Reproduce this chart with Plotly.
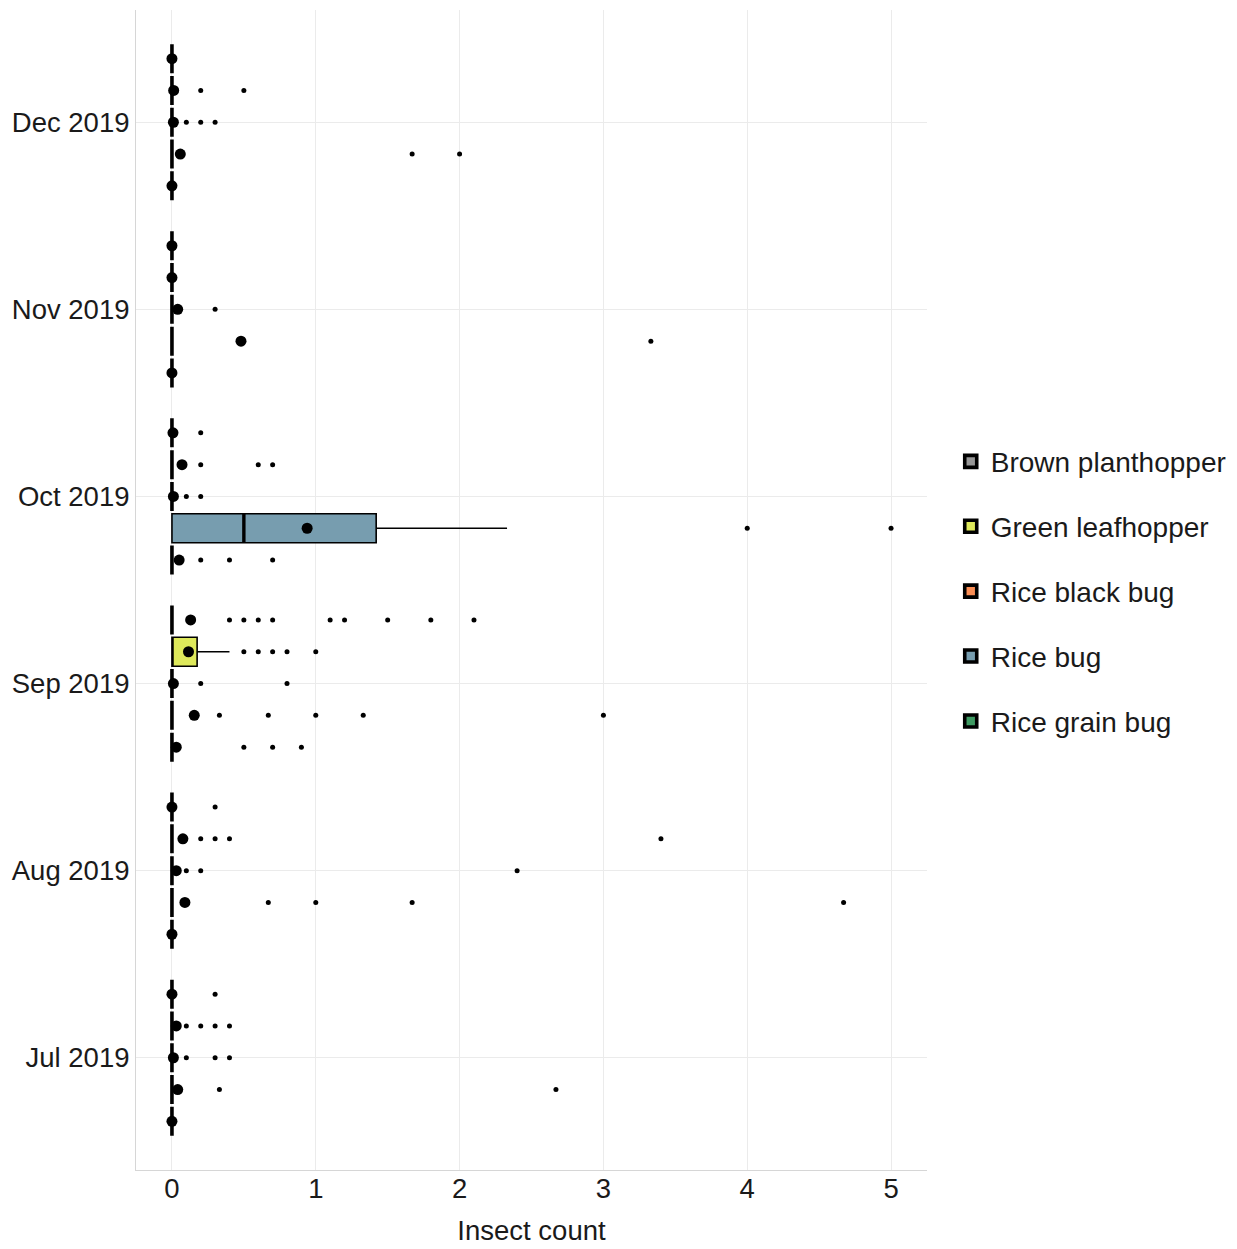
import plotly.graph_objects as go

months = ["Jul 2019", "Aug 2019", "Sep 2019", "Oct 2019", "Nov 2019", "Dec 2019"]
species = ["Brown planthopper", "Green leafhopper", "Rice black bug", "Rice bug", "Rice grain bug"]
colors = ["#979797", "#DEE95B", "#FA8E55", "#779DAF", "#3E9A62"]

# box statistics per species, one value per month (Jul..Dec)
q1 = {s: [0, 0, 0, 0, 0, 0] for s in species}
median = {s: [0, 0, 0, 0, 0, 0] for s in species}
q3 = {s: [0, 0, 0, 0, 0, 0] for s in species}
upper = {s: [0, 0, 0, 0, 0, 0] for s in species}
q3["Green leafhopper"] = [0, 0, 0.175, 0, 0, 0]
upper["Green leafhopper"] = [0, 0, 0.4, 0, 0, 0]
median["Rice bug"] = [0, 0, 0, 0.5, 0, 0]
q3["Rice bug"] = [0, 0, 0, 1.42, 0, 0]
upper["Rice bug"] = [0, 0, 0, 2.33, 0, 0]

means = {
    "Brown planthopper": [0.0, 0.0, 0.13, 0.007, 0.0, 0.0],
    "Green leafhopper": [0.03, 0.076, 0.115, 0.07, 0.0, 0.012],
    "Rice black bug": [0.01, 0.03, 0.01, 0.01, 0.04, 0.01],
    "Rice bug": [0.04, 0.09, 0.155, 0.94, 0.48, 0.058],
    "Rice grain bug": [0.0, 0.0, 0.03, 0.05, 0.0, 0.0],
}

outliers = {
    "Brown planthopper": [[0.3], [0.3], [0.4, 0.5, 0.6, 0.7, 1.1, 1.2, 1.5, 1.8, 2.1], [0.2], [], []],
    "Green leafhopper": [[0.1, 0.2, 0.3, 0.4], [0.2, 0.3, 0.4, 3.4], [0.5, 0.6, 0.7, 0.8, 1.0], [0.2, 0.6, 0.7], [], [0.2, 0.5]],
    "Rice black bug": [[0.1, 0.3, 0.4], [0.1, 0.2, 2.4], [0.2, 0.8], [0.1, 0.2], [0.3], [0.1, 0.2, 0.3]],
    "Rice bug": [[0.33, 2.67], [0.67, 1.0, 1.67, 4.67], [0.33, 0.67, 1.0, 1.33, 3.0], [4.0, 5.0], [3.33], [1.67, 2.0]],
    "Rice grain bug": [[], [], [0.5, 0.7, 0.9], [0.2, 0.4, 0.7], [], []],
}

STEP = 0.17
BOXW = 0.155

fig = go.Figure()
for i, s in enumerate(species):
    off = (2 - i) * STEP
    for m in range(len(months)):
        pos = m + 1 + off
        degenerate = q3[s][m] == q1[s][m]
        fig.add_trace(go.Box(
            y=[pos], q1=[q1[s][m]], median=[median[s][m]], q3=[q3[s][m]],
            lowerfence=[q1[s][m]], upperfence=[upper[s][m]],
            orientation="h", width=BOXW, whiskerwidth=0,
            fillcolor=colors[i], line=dict(color="black", width=3.6 if degenerate else 1.6),
            boxpoints=False, name=s, legendgroup=s, showlegend=(m == 0),
            hoverinfo="skip",
        ))
        if not degenerate and median[s][m] != q1[s][m]:
            # thicker median line, as in the reference
            fig.add_trace(go.Scatter(
                x=[median[s][m], median[s][m]], y=[pos - BOXW / 2, pos + BOXW / 2],
                mode="lines", line=dict(color="black", width=3.4),
                legendgroup=s, showlegend=False, hoverinfo="skip"))
    ys_o, xs_o = [], []
    for m in range(len(months)):
        for v in outliers[s][m]:
            xs_o.append(v)
            ys_o.append(m + 1 + off)
    fig.add_trace(go.Scatter(x=xs_o, y=ys_o, mode="markers", marker=dict(color="black", size=5),
                             legendgroup=s, showlegend=False, hoverinfo="skip"))
    fig.add_trace(go.Scatter(x=means[s], y=[m + 1 + off for m in range(len(months))], mode="markers",
                             marker=dict(color="black", size=11), legendgroup=s, showlegend=False,
                             hoverinfo="skip"))

fig.update_layout(
    width=1229, height=1241,
    margin=dict(l=128, r=310, t=2, b=79),
    paper_bgcolor="white", plot_bgcolor="white",
    font=dict(family="Liberation Sans, Arial, sans-serif", size=27.5, color="#1a1a1a"),
    showlegend=True,
    legend=dict(x=1.03, y=0.499, xanchor="left", yanchor="middle", traceorder="grouped",
                tracegroupgap=25.5, font=dict(size=28, color="#1a1a1a"), bgcolor="rgba(0,0,0,0)"),
    xaxis=dict(range=[-0.25, 5.25], tickvals=[0, 1, 2, 3, 4, 5], showgrid=True, gridcolor="#ebebeb",
               gridwidth=1, zeroline=False, showline=True, linecolor="#d6d6d6", linewidth=1,
               ticks="", ticklabelstandoff=-6, automargin=False,
               title=dict(text="Insect count", standoff=17, font=dict(size=27.5)),
               tickfont=dict(size=27.5)),
    yaxis=dict(range=[0.4, 6.6], tickvals=[1, 2, 3, 4, 5, 6], ticktext=months, showgrid=True,
               gridcolor="#ebebeb", gridwidth=1, zeroline=False, showline=True, linecolor="#d6d6d6",
               linewidth=1, ticks="", tickfont=dict(size=27.5), automargin=False),
)

fig.write_html("out.html")
